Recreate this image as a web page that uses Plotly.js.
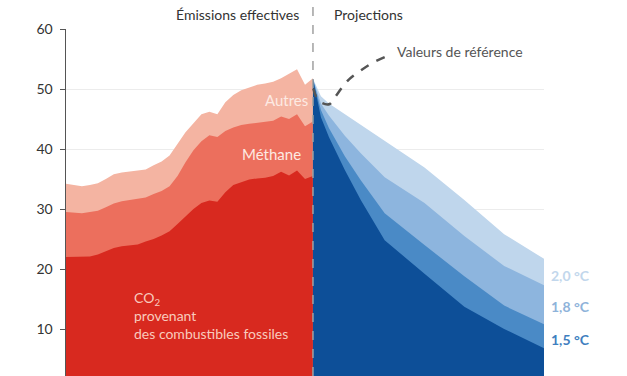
<!DOCTYPE html>
<html><head><meta charset="utf-8">
<script src="https://cdn.plot.ly/plotly-3.0.1.min.js"></script>
<style>html,body{margin:0;padding:0;background:#fff;}#chart{width:627px;height:376px;}</style>
</head><body><div id="chart"></div>
<script>
// ---- Data ----
const histYears = [1990,1991,1992,1993,1994,1995,1996,1997,1998,1999,2000,2001,2002,2003,2004,2005,2006,2007,2008,2009,2010,2011,2012,2013,2014,2015,2016,2017,2018,2019,2020,2021];
const totalGHG  = [34.2,34.0,33.8,34.0,34.3,35.0,35.8,36.1,36.3,36.4,36.6,37.3,37.9,38.9,40.8,42.8,44.3,45.8,46.2,45.8,47.8,49.0,49.8,50.3,50.7,50.9,51.2,51.8,52.5,53.3,50.7,51.8];
const methaneTop= [29.5,29.4,29.3,29.5,29.7,30.3,30.9,31.3,31.5,31.6,31.9,32.5,33.0,33.8,35.5,37.8,39.8,41.3,42.3,42.0,43.0,43.6,44.0,44.2,44.4,44.5,44.7,45.4,45.0,45.8,43.8,44.6];
const co2Fossil = [22.0,22.0,22.0,22.1,22.4,23.0,23.5,23.8,24.0,24.1,24.6,25.0,25.6,26.3,27.5,28.8,30.0,31.0,31.4,31.2,32.8,34.0,34.5,34.9,35.1,35.2,35.5,36.2,35.6,36.4,35.0,35.5];

const projYears = [2021,2022,2023,2025,2027,2030,2035,2040,2045,2050];
const proj20    = [51.7,48.8,47.6,45.8,44.0,41.4,36.9,31.5,25.8,21.7];
const proj18    = [51.7,47.6,45.6,42.2,39.3,35.3,31.0,25.5,20.5,17.3];
const proj15    = [51.7,46.5,43.5,38.8,34.8,29.3,24.0,18.8,13.9,10.8];
const projLow   = [51.7,45.3,42.0,36.5,31.5,24.8,19.2,13.7,10.0,6.8];

const yTicks = [10,20,30,40,50,60];
const splitYear = 2021;
const leaderX = [2030.0,2028.4,2026.9,2025.6,2024.8,2023.8,2023.1,2022.1,2021.4,2021.0];
const leaderY = [55.3,54.3,53.0,51.7,50.5,48.7,47.5,47.7,48.7,50.3];

// ---- Chart ----
const FONT = 'Lato, "Open Sans", sans-serif';
const xr = [1990, 2050];
const yr = [2.17, 60];

function area(x, y, color){
  return {x:x, y:y, type:'scatter', mode:'lines', fill:'tozeroy', fillcolor:color,
          line:{width:0, color:color}, hoverinfo:'skip', showlegend:false};
}
const traces = [
  area(histYears, totalGHG, '#f4b4a2'),
  area(histYears, methaneTop, '#ec6f5d'),
  area(histYears, co2Fossil, '#d8291f'),
  area(projYears, proj20, '#bfd6ec'),
  area(projYears, proj18, '#8db5de'),
  area(projYears, proj15, '#4a8ac6'),
  area(projYears, projLow, '#0d4f98'),
  {x:leaderX, y:leaderY, type:'scatter', mode:'lines', line:{color:'#555', width:2.5, dash:'dash', shape:'spline'}, hoverinfo:'skip', showlegend:false}
];

const splitPaper = (splitYear - xr[0])/(xr[1]-xr[0]);
const layout = {
  width:627, height:376,
  margin:{l:66, r:83, t:29, b:0, pad:0},
  paper_bgcolor:'#fff', plot_bgcolor:'#fff',
  font:{family:FONT, color:'#333', size:14},
  xaxis:{range:xr, showgrid:false, zeroline:false, showticklabels:false, ticks:'', showline:false, fixedrange:true},
  yaxis:{range:yr, tickvals:yTicks, ticktext:yTicks.map(String), showgrid:true, gridcolor:'#ececec', gridwidth:1,
         zeroline:false, showline:true, linecolor:'#555', linewidth:1.5, ticks:'outside', ticklen:5, tickcolor:'#555',
         ticklabelstandoff:4,
         tickfont:{size:14, color:'#333', family:FONT}, fixedrange:true},
  shapes:[
    {type:'line', xref:'paper', yref:'paper', x0:splitPaper, x1:splitPaper, y0:0, y1:376/347,
     line:{color:'#a0a0a0', width:1.5, dash:'dash'}}
  ],
  annotations:[
    {xref:'paper', yref:'paper', x:splitPaper-0.024, y:1+ (14/347), xanchor:'right', yanchor:'middle', showarrow:false,
     text:'Émissions effectives', font:{size:14, color:'#333', family:FONT}},
    {xref:'paper', yref:'paper', x:splitPaper+0.04, y:1+ (14/347), xanchor:'left', yanchor:'middle', showarrow:false,
     text:'Projections', font:{size:14, color:'#333', family:FONT}},
    {x:2017.7, y:48.2, xref:'x', yref:'y', showarrow:false, text:'Autres', font:{size:15, color:'#fdeae3', family:FONT}},
    {x:2015.8, y:39.2, xref:'x', yref:'y', showarrow:false, text:'Méthane', font:{size:15, color:'#fdeae3', family:FONT}},
    {x:1998.3, y:12.2, xref:'x', yref:'y', xanchor:'left', align:'left', showarrow:false,
     text:'CO<sub>2</sub><br>provenant<br>des combustibles fossiles', font:{size:14, color:'#f8cbbd', family:FONT}},
    {x:2031.3, y:56.2, xref:'x', yref:'y', xanchor:'left', showarrow:false, text:'Valeurs de référence', font:{size:14, color:'#555', family:FONT}},
    {xref:'paper', yref:'y', x:1.01, y:19.0, xanchor:'left', showarrow:false, text:'<b>2,0 °C</b>', font:{size:14, color:'#c2d7ec', family:FONT}},
    {xref:'paper', yref:'y', x:1.01, y:13.7, xanchor:'left', showarrow:false, text:'<b>1,8 °C</b>', font:{size:14, color:'#8fb3da', family:FONT}},
    {xref:'paper', yref:'y', x:1.01, y:8.2, xanchor:'left', showarrow:false, text:'<b>1,5 °C</b>', font:{size:14, color:'#3f7fc0', family:FONT}}
  ]
};
Plotly.newPlot('chart', traces, layout, {staticPlot:true, displayModeBar:false});
</script>
</body></html>
